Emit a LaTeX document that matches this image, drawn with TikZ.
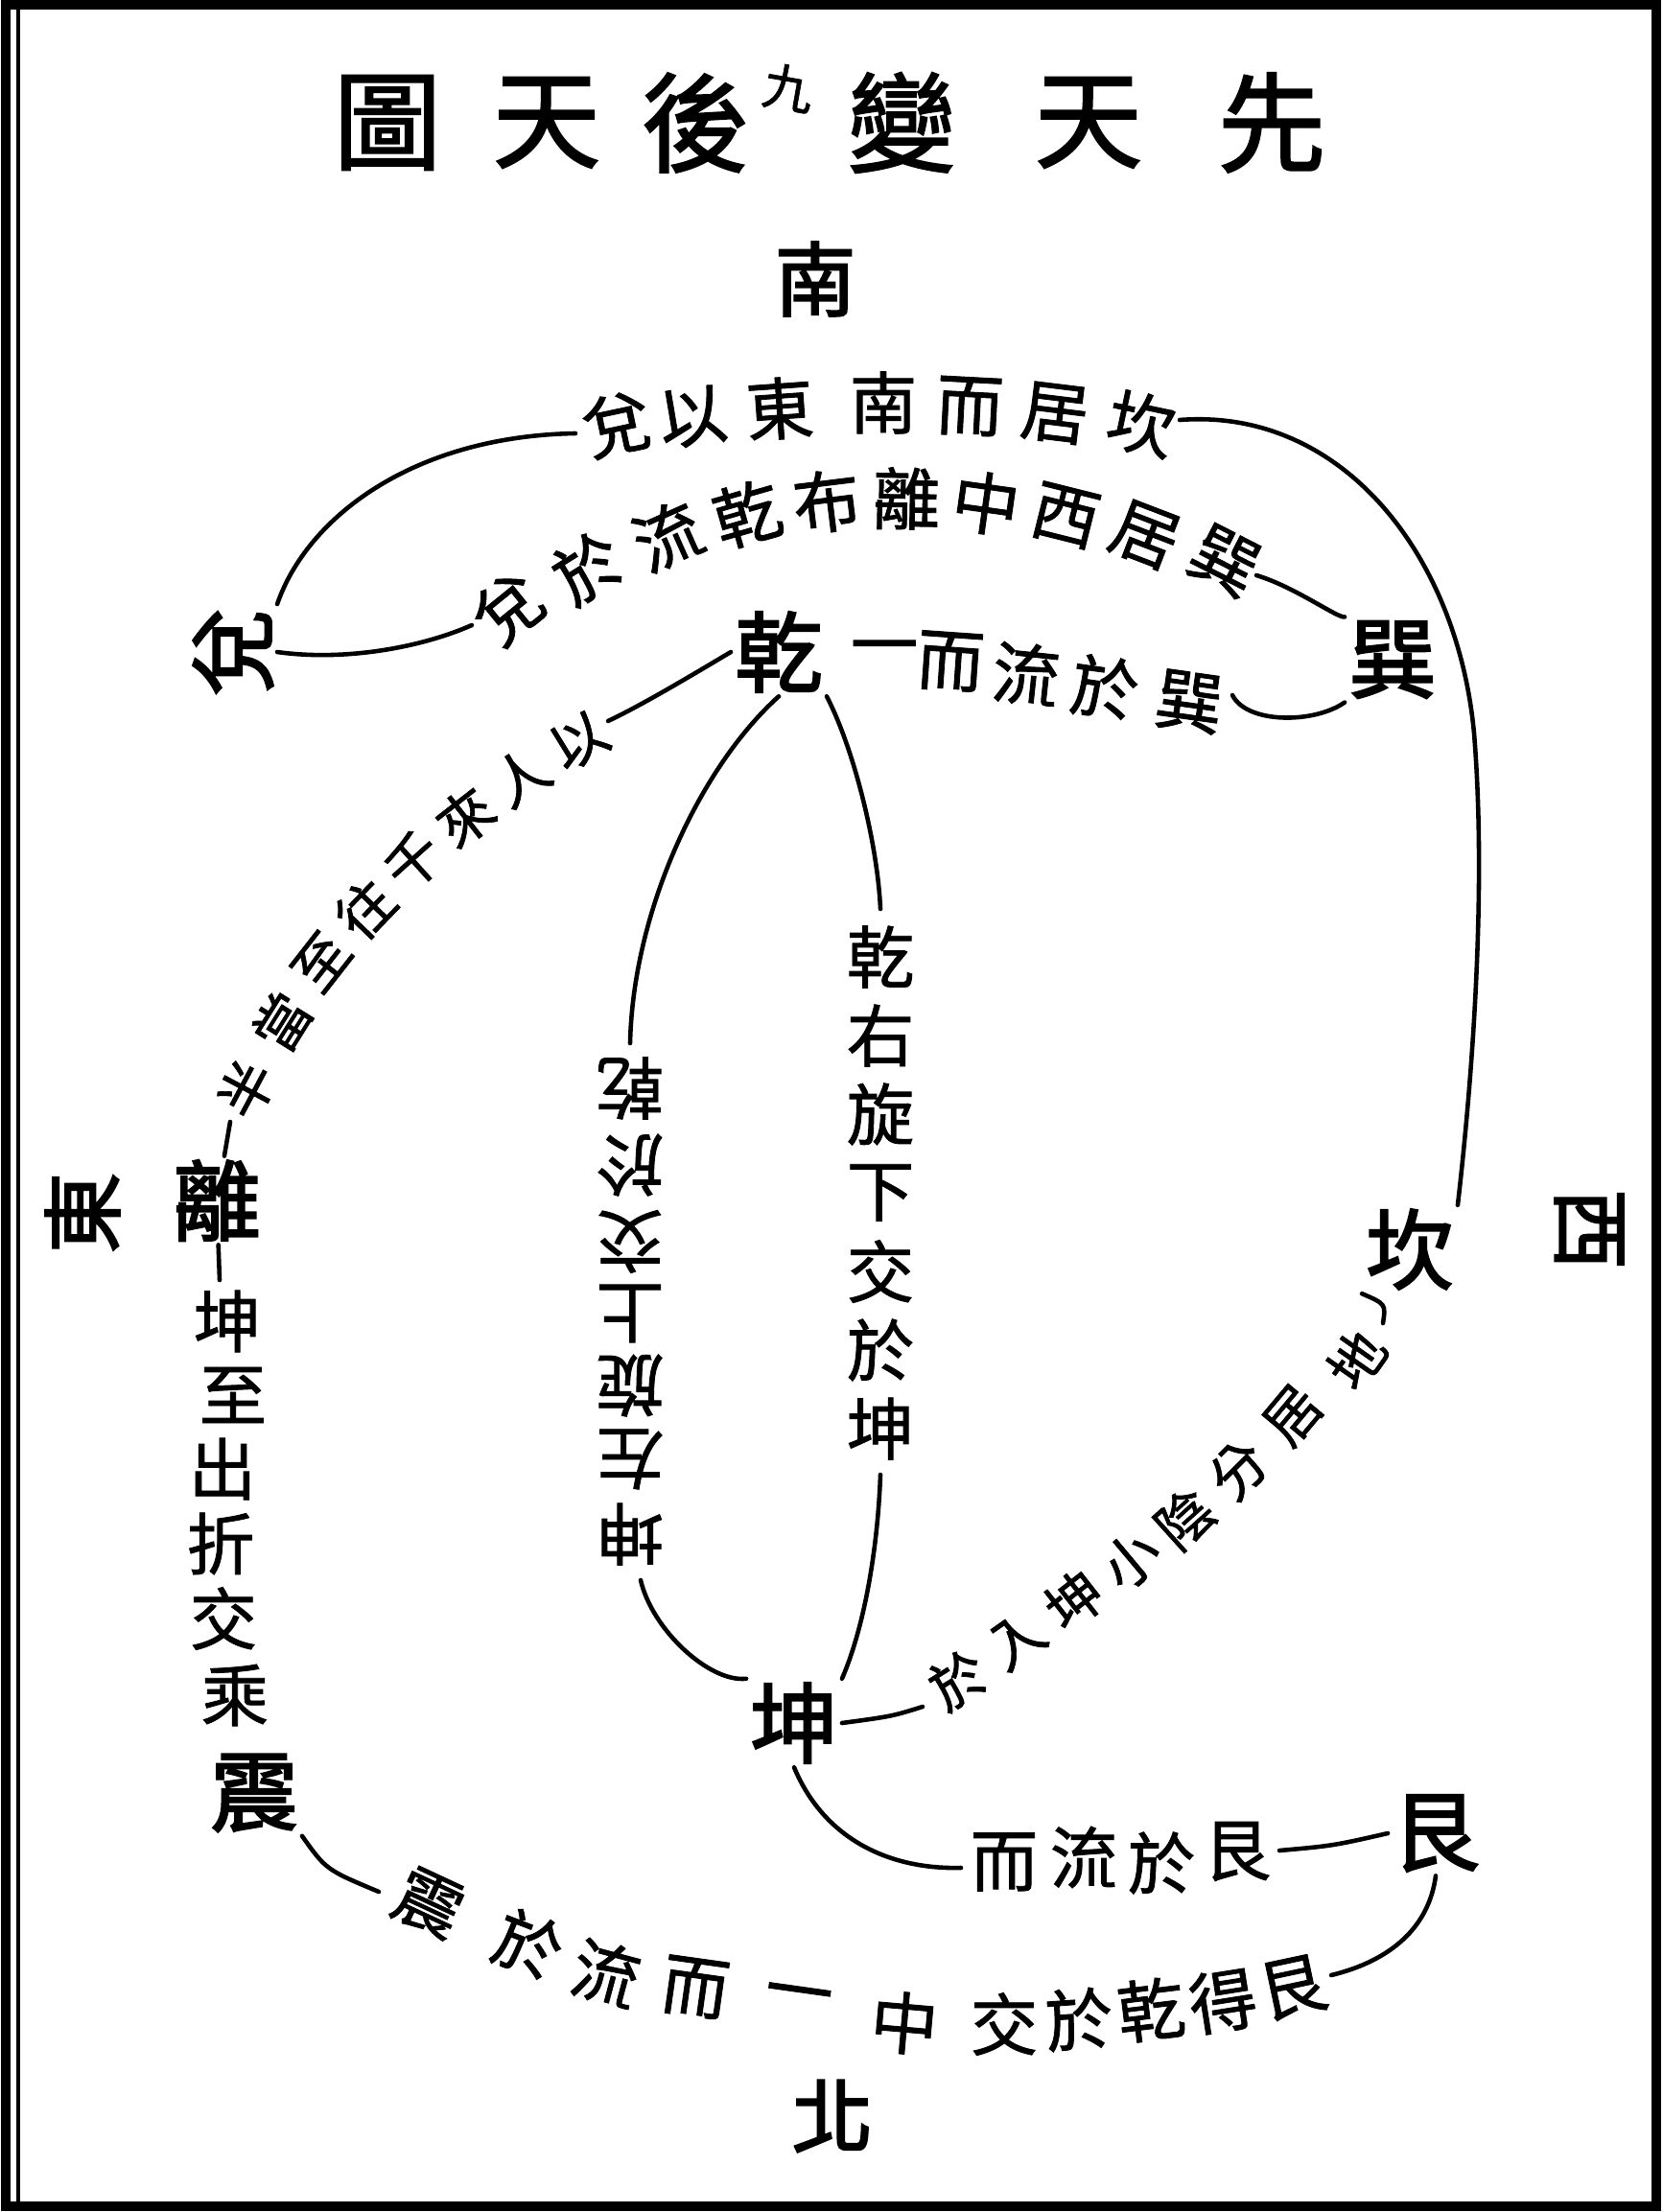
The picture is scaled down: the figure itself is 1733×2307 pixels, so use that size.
\documentclass[tikz,border=0pt]{standalone}
\usepackage{fontspec}
\newfontfamily\cjk[FakeBold=1.2]{Noto Sans CJK TC}
\newfontfamily\cjkbold[FakeBold=2.4]{Noto Sans CJK TC}
\newfontfamily\cjktitle[FakeBold=1.8]{Noto Sans CJK TC}
\tikzset{
  gua/.style={font=\cjkbold\fontsize{26}{26}\selectfont, inner sep=1pt},
  fang/.style={font=\cjkbold\fontsize{24}{24}\selectfont, inner sep=1pt},
  zi/.style={font=\cjk\fontsize{20}{20}\selectfont, inner sep=0pt},
  xiezi/.style={font=\cjk\fontsize{16.5}{16.5}\selectfont, inner sep=0pt},
  biaoti/.style={font=\cjktitle\fontsize{32}{32}\selectfont, inner sep=0pt},
  xian/.style={line width=1.3pt, line cap=round},
}
\begin{document}
\begin{tikzpicture}[x=0.01cm,y=-0.01cm]
\useasboundingbox (0,0) rectangle (1733,2307);
% frame
\draw[line width=3pt] (6,5) rectangle (1727,2301);
\draw[line width=1pt] (19,5) -- (19,2301);
% title
\foreach \x/\c [count=\i] in {404/圖,570/天,725/後,940/變,1135/天,1326/先}
  \node[biaoti] (bt\i) at (\x,128) {\c};
\node[font=\cjk\fontsize{15}{15}\selectfont, rotate=-10] (jiu) at (822,92) {九};
% four sides
\node[fang] (nan) at (850,291) {南};
\node[fang] (bei) at (868,2207) {北};
\node[fang] (dong) at (86,1265) {\rotatebox{90}{東}};
\node[fang] (xi) at (1657,1282) {\rotatebox{-90}{西}};
% trigrams
\node[gua] (dui) at (243,680) {\rotatebox{90}{兌}};
\node[gua] (qian) at (812,680) {乾};
\node[gua] (xun) at (1452,688) {巽};
\node[gua] (kan) at (1470,1303) {坎};
\node[gua] (kun) at (828,1797) {坤};
\node[gua] (gen) at (1497,1912) {艮};
\node[gua] (zhen) at (265,1870) {震};
\node[gua] (li) at (226,1252) {離};
% texts along the lines
\foreach \x/\y/\a/\c [count=\i] in {643/443/12/兌,722/435/8/以,813/426/4/東,921/420/0/南,
    1011/424/-3/而,1100/431/-7/居,1190/442/-12/坎}
  \node[zi,rotate=\a] (ta\i) at (\x,\y) {\c};
\foreach \x/\y/\a/\c [count=\i] in {530/635/39/兌,613/592/32/於,696/559/24/流,779/536/16/乾,
    862/523/7/布,945/520/-1/離,1028/525/-8/中,1111/538/-14/西,1194/558/-21/居,1277/585/-27/巽}
  \node[zi,rotate=\a] (tb\i) at (\x,\y) {\c};
\foreach \x/\y/\a/\c [count=\i] in {922/683/0/一,991/690/-4/而,1070/703/-6/流,1152/717/-8/於,1240/732/-8/巽}
  \node[zi,rotate=\a] (tc\i) at (\x,\y) {\c};
\foreach \x/\y/\a/\c [count=\i] in {604/773/30/以,543/810/33/人,485/852/38/來,431/898/42/千,
    381/948/46/往,335/1003/52/至,294/1066/58/當,257/1136/62/半}
  \node[xiezi,rotate=\a] (td\i) at (\x,\y) {\c};
\foreach \x/\y/\c [count=\i] in {237/1378/坤,243/1455/至,232/1532/出,230/1610/折,233/1688/交,245/1768/乘}
  \node[zi] (tv\i) at (\x,\y) {\c};
\foreach \x/\y/\a/\c [count=\i] in {447/1985/-25/震,551/2028/-21/於,632/2058/-15/流,725/2073/-8/而,
    832/2087/-8/一,943/2110/-5/中,1047/2111/0/交,1125/2106/4/於,1200/2096/7/乾,1275/2087/9/得,1348/2073/12/艮}
  \node[zi,rotate=\a] (te\i) at (\x,\y) {\c};
\foreach \x/\y/\a/\c [count=\i] in {1047/1942/0/而,1130/1937/0/流,1211/1943/0/於,1290/1931/0/艮}
  \node[zi,rotate=\a] (tk\i) at (\x,\y) {\c};
\foreach \y/\c [count=\i] in {1135/乾,1215/於,1295/交,1370/上,1445/旋,1522/左,1600/坤}
  \node[zi,rotate=180] (tl\i) at (657,\y) {\c};
\foreach \y/\c [count=\i] in {998/乾,1080/右,1162/旋,1244/下,1326/交,1408/於,1490/坤}
  \node[zi] (tr\i) at (918,\y) {\c};
\foreach \x/\y/\a/\c [count=\i] in {1414/1418/55/地,1348/1476/50/居,1291/1533/45/分,1235/1584/42/陰,
    1179/1627/40/小,1120/1669/38/坤,1060/1711/35/入,999/1752/32/於}
  \node[xiezi,rotate=\a] (tg\i) at (\x,\y) {\c};
% free ends of the lines
\coordinate (a1) at (600,452);
\coordinate (a2) at (1230,438);
\coordinate (b1) at (492,652);
\coordinate (b2) at (1310,600);
\coordinate (c1) at (1285,725);
\coordinate (d1) at (634,752);
\coordinate (d2) at (240,1170);
\coordinate (v0) at (229,1335);
\coordinate (e0) at (395,1973);
\coordinate (e1) at (1388,2060);
\coordinate (k1) at (1002,1948);
\coordinate (k2) at (1334,1930);
\coordinate (l1) at (657,1088);
\coordinate (l2) at (668,1648);
\coordinate (r1) at (918,948);
\coordinate (r2) at (918,1538);
\coordinate (g1) at (1442,1380);
\coordinate (g2) at (962,1780);
% lines
\draw[xian] (dui.north east) .. controls (320,540) and (430,455) .. (a1);
\draw[xian] (a2) .. controls (1400,425) and (1520,580) .. (1537,765)
  .. controls (1552,950) and (1530,1170) .. (kan.north east);
\draw[xian] (dui.east) .. controls (360,690) and (440,675) .. (b1);
\draw[xian] (b2) .. controls (1350,612) and (1395,645) .. (xun.north west);
\draw[xian] (c1) .. controls (1300,755) and (1370,755) .. (xun.south west);
\draw[xian] (qian.west) .. controls (720,705) and (670,735) .. (d1);
\draw[xian] (d2) -- (li) -- (v0);
\draw[xian] (zhen.south east) .. controls (340,1950) .. (e0);
\draw[xian] (e1) .. controls (1450,2045) and (1490,2010) .. (gen.south);
\draw[xian] (kun.south) .. controls (860,1920) and (930,1950) .. (k1);
\draw[xian] (k2) .. controls (1390,1925) .. (gen.west);
\draw[xian] (qian.south) .. controls (730,800) and (660,950) .. (l1);
\draw[xian] (l2) .. controls (680,1700) and (740,1755) .. (kun.north west);
\draw[xian] (qian.south east) .. controls (890,780) and (915,880) .. (r1);
\draw[xian] (r2) .. controls (915,1620) and (900,1700) .. (kun.north east);
\draw[xian] (kan.south west) .. controls (1445,1360) .. (g1);
\draw[xian] (g2) .. controls (930,1790) .. (kun.east);
\end{tikzpicture}
\end{document}
